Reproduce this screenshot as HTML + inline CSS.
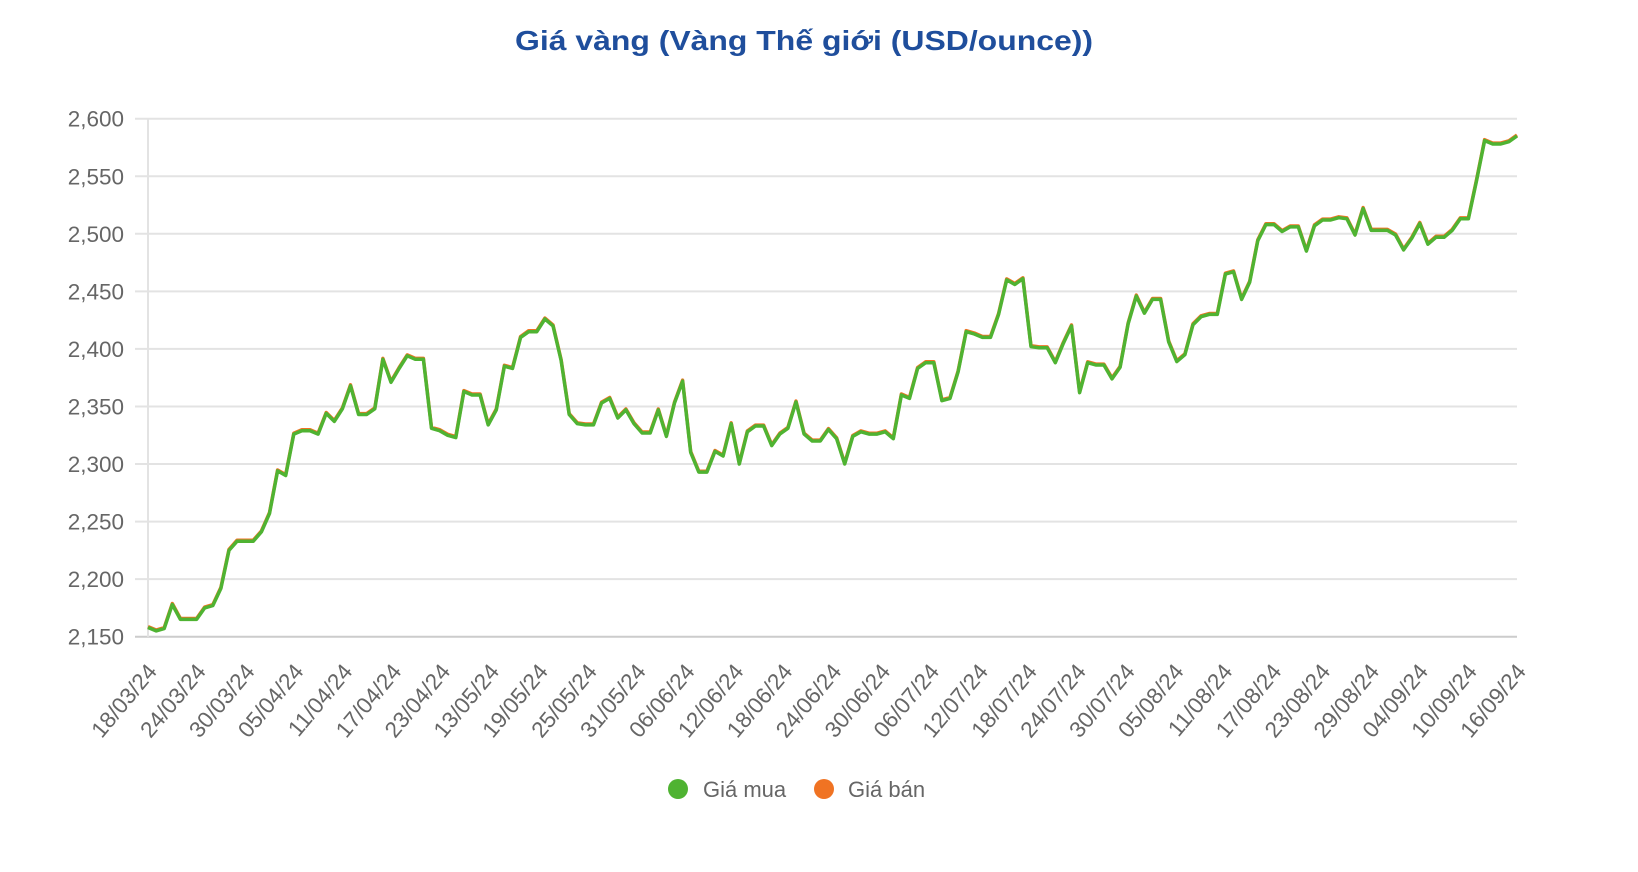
<!DOCTYPE html>
<html><head><meta charset="utf-8"><style>
html,body{margin:0;padding:0;background:#fff;}
svg{display:block;font-family:"Liberation Sans",sans-serif;}
</style></head><body>
<svg id="c" width="1638" height="872" viewBox="0 0 1638 872" xmlns="http://www.w3.org/2000/svg">
<text x="804" y="50" text-anchor="middle" font-size="28" font-weight="bold" fill="#1f4e9c" textLength="578" lengthAdjust="spacingAndGlyphs">Giá vàng (Vàng Thế giới (USD/ounce))</text>
<g id="grid"></g>
<g id="lines"></g>
<g id="xl"></g>
<circle cx="678" cy="789" r="10" fill="#4fb332"/>
<text x="703" y="797" font-size="22" fill="#666">Giá mua</text>
<circle cx="824" cy="789" r="10" fill="#f07323"/>
<text x="848" y="797" font-size="22" fill="#666">Giá bán</text>
</svg>
<script>
var L=148,R=1517,T=118.7,B=636.7;
function Y(v){return B-(v-2150)/450*(B-T);}
var g=document.getElementById('grid'),s='';
for(var i=0;i<=9;i++){var v=2150+i*50,y=Y(v);
s+='<line x1="135" x2="'+R+'" y1="'+y+'" y2="'+y+'" stroke="'+(i==0?'#ccc':'#e3e3e3')+'" stroke-width="2"/>';
s+='<text x="124" y="'+(y+8)+'" text-anchor="end" font-size="22.5" fill="#666">'+(v/1000|0)+','+String(v%1000).padStart(3,'0')+'</text>';}
s+='<line x1="'+L+'" x2="'+L+'" y1="'+T+'" y2="'+B+'" stroke="#e3e3e3" stroke-width="2"/>';
g.innerHTML=s;
var d=[2158,2155,2157,2178,2165,2165,2165,2175,2177,2192,2225,2233,2233,2233,2241,2257,2294,2290,2326,2329,2329,2326,2344,2337,2348,2368,2343,2343,2348,2391,2371,2383,2394,2391,2391,2331,2329,2325,2323,2363,2360,2360,2334,2347,2385,2383,2410,2415,2415,2426,2420,2390,2343,2335,2334,2334,2353,2357,2340,2347,2335,2327,2327,2347,2324,2353,2372,2310,2293,2293,2311,2307,2335,2300,2328,2333,2333,2316,2326,2331,2354,2326,2320,2320,2330,2322,2300,2324,2328,2326,2326,2328,2322,2360,2357,2383,2388,2388,2355,2357,2380,2415,2413,2410,2410,2430,2460,2456,2461,2402,2401,2401,2388,2405,2420,2362,2388,2386,2386,2374,2384,2422,2446,2431,2443,2443,2406,2389,2395,2421,2428,2430,2430,2465,2467,2443,2458,2494,2508,2508,2502,2506,2506,2485,2507,2512,2512,2514,2513,2499,2522,2503,2503,2503,2499,2486,2496,2509,2491,2497,2497,2503,2513,2513,2546,2581,2578,2578,2580,2585];
var n=d.length,st=(R-L)/(n-1);
function path(off){var p='';for(var i=0;i<n;i++){p+=(i?'L':'M')+(L+i*st).toFixed(1)+','+(Y(d[i]+off)).toFixed(1);}return p;}
document.getElementById('lines').innerHTML='<path d="'+path(0.8)+'" fill="none" stroke="#f07323" stroke-width="3.5" stroke-linejoin="round"/><path d="'+path(0)+'" fill="none" stroke="#4fb332" stroke-width="3.5" stroke-linejoin="round"/>';
var labs=["18/03/24","24/03/24","30/03/24","05/04/24","11/04/24","17/04/24","23/04/24","13/05/24","19/05/24","25/05/24","31/05/24","06/06/24","12/06/24","18/06/24","24/06/24","30/06/24","06/07/24","12/07/24","18/07/24","24/07/24","30/07/24","05/08/24","11/08/24","17/08/24","23/08/24","29/08/24","04/09/24","10/09/24","16/09/24"];
var xs='',ls=(R-L)/(labs.length-1);
for(var i=0;i<labs.length;i++){var x=L+i*ls+10;
xs+='<text transform="translate('+x.toFixed(1)+',672) rotate(-50)" text-anchor="end" font-size="22.5" fill="#666">'+labs[i]+'</text>';}
document.getElementById('xl').innerHTML=xs;
</script>
</body></html>
